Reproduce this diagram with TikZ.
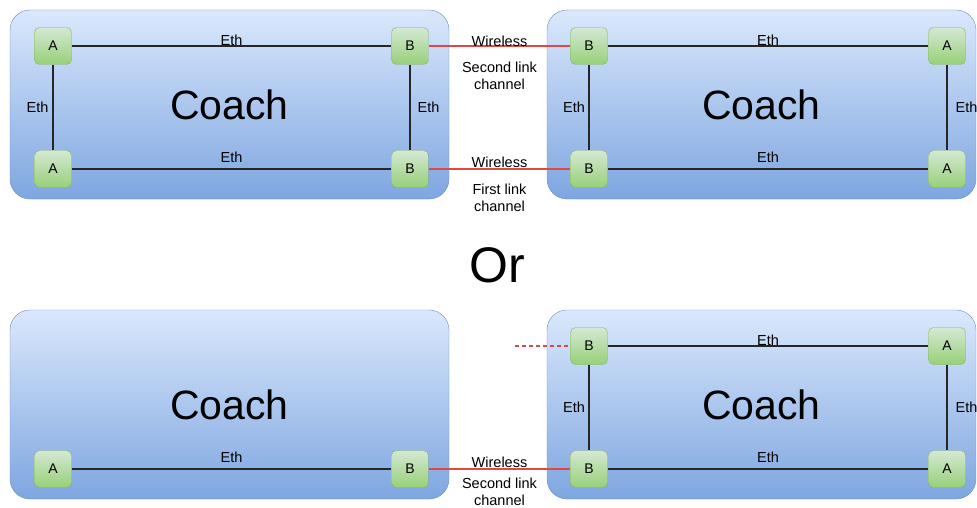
\documentclass[tikz,border=0pt]{standalone}
\usepackage{fontspec}
\setmainfont{Liberation Sans}
\definecolor{coachedge}{HTML}{6C8EBF}
\definecolor{coachtop}{HTML}{DAE8FC}
\definecolor{coachbot}{HTML}{7EA6E0}
\definecolor{portedge}{HTML}{82B366}
\definecolor{porttop}{HTML}{D5E8D4}
\definecolor{portbot}{HTML}{97D077}
\definecolor{radiored}{HTML}{E04848}
\begin{document}
\begin{tikzpicture}[x=1pt,y=-1pt,
  coach/.style={draw=coachedge, top color=coachtop, bottom color=coachbot, rounded corners=20pt, minimum height=189pt, inner sep=0pt, font=\fontsize{41}{48}\selectfont},
  port/.style={draw=portedge, top color=porttop, bottom color=portbot, rounded corners=5pt, minimum size=37pt, inner sep=0pt, font=\fontsize{14}{16}\selectfont},
  eth/.style={draw=black!85, line width=1.2pt},
  radio/.style={color=radiored, line width=1.2pt},
  lbl/.style={inner sep=0pt, align=center, font=\fontsize{14.5}{17}\selectfont}]
\useasboundingbox (0,0) rectangle (977,508);
% upper pair of coaches
\node[coach, minimum width=439pt] (tlcoach) at (229.5,104.5) {Coach};
\node[coach, minimum width=429pt] (trcoach) at (761.5,104.5) {Coach};
\node[port] (tlA1) at (53,46) {A};
\node[port] (tlB1) at (410,46) {B};
\node[port] (tlA2) at (53,169) {A};
\node[port] (tlB2) at (410,169) {B};
\node[port] (trB1) at (589,46) {B};
\node[port] (trA1) at (947,46) {A};
\node[port] (trB2) at (589,169) {B};
\node[port] (trA2) at (947,169) {A};
\draw[eth] (tlA1) -- node[lbl, above=0pt] {Eth} (tlB1);
\draw[eth] (tlA2) -- node[lbl, above=6pt] {Eth} (tlB2);
\draw[eth] (tlA1) -- node[lbl, left=4pt] {Eth} (tlA2);
\draw[eth] (tlB1) -- node[lbl, right=7pt] {Eth} (tlB2);
\draw[eth] (trB1) -- node[lbl, above=0pt] {Eth} (trA1);
\draw[eth] (trB2) -- node[lbl, above=6pt] {Eth} (trA2);
\draw[eth] (trB1) -- node[lbl, left=3.5pt] {Eth} (trB2);
\draw[eth] (trA1) -- node[lbl, right=8pt] {Eth} (trA2);
% wireless links, labels on their own paths
\draw[radio] (tlB1.east) -- (trB1.west);
\path (tlB1) -- node[lbl, above=-1pt] {Wireless} node[lbl, below=15.5pt] {Second link\\channel} (trB1);
\draw[radio] (tlB2.east) -- (trB2.west);
\path (tlB2) -- node[lbl, above=1pt] {Wireless} node[lbl, below=14.5pt] {First link\\channel} (trB2);
\node[font=\fontsize{50}{56}\selectfont] (or) at (497,265) {Or};
% lower pair of coaches
\node[coach, minimum width=439pt] (blcoach) at (229.5,404.5) {Coach};
\node[coach, minimum width=429pt] (brcoach) at (761.5,404.5) {Coach};
\node[port] (blA) at (53,469) {A};
\node[port] (blB) at (410,469) {B};
\node[port] (brB1) at (589,346) {B};
\node[port] (brA1) at (947,346) {A};
\node[port] (brB2) at (589,469) {B};
\node[port] (brA2) at (947,469) {A};
\draw[eth] (blA) -- node[lbl, above=6pt] {Eth} (blB);
\draw[eth] (brB1) -- node[lbl, above=0pt] {Eth} (brA1);
\draw[eth] (brB2) -- node[lbl, above=6pt] {Eth} (brA2);
\draw[eth] (brB1) -- node[lbl, left=3.5pt] {Eth} (brB2);
\draw[eth] (brA1) -- node[lbl, right=8pt] {Eth} (brA2);
\draw[radio] (blB.east) -- (brB2.west);
\path (blB) -- node[lbl, above=1pt] {Wireless} node[lbl, below=9pt] {Second link\\channel} (brB2);
\coordinate (stub) at (515,346);
\draw[radio, dash pattern=on 4pt off 3pt] (stub) -- (brB1.west);
\end{tikzpicture}
\end{document}
